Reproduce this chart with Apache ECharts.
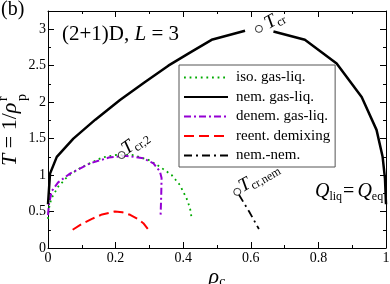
<!DOCTYPE html>
<html>
<head>
<meta charset="utf-8">
<script src="https://cdn.jsdelivr.net/npm/echarts@6/dist/echarts.min.js"></script>
<style>html,body{margin:0;padding:0;background:#fff}#c{width:390px;height:284px}</style>
</head>
<body>
<div id="c"></div>
<script>
// ---- data ----
const xRange = [0, 1];
const yRange = [0, 3.25];
const seriesNames = ['iso. gas-liq.', 'nem. gas-liq.', 'denem. gas-liq.', 'reent. demixing', 'nem.-nem.'];
const isoGasLiq = [[0,0.40],[0.003,0.55],[0.01,0.68],[0.03,0.84],[0.06,0.99],[0.1,1.11],[0.16,1.24],[0.2,1.275],[0.25,1.275],[0.297,1.21],[0.331,1.115],[0.366,1.0],[0.39,0.865],[0.41,0.68],[0.42,0.55],[0.425,0.41]];
const nemLeft = [[0,0.6],[0.006,1.02],[0.026,1.25],[0.075,1.5],[0.14,1.76],[0.213,2.03],[0.285,2.27],[0.356,2.5],[0.42,2.68],[0.484,2.855],[0.583,2.98]];
const nemRight = [[0.667,2.97],[0.76,2.855],[0.854,2.53],[0.928,2.07],[0.972,1.62],[0.99,1.25],[0.997,0.95],[1.0,0.6]];
const denemGasLiq = [[0,0.45],[0.003,0.6],[0.011,0.78],[0.03,0.9],[0.065,1.02],[0.124,1.16],[0.18,1.24],[0.23,1.265],[0.282,1.23],[0.312,1.16],[0.331,1.05],[0.336,0.96],[0.335,0.73],[0.333,0.43]];
const reentDemix = [[0.073,0.25],[0.1,0.33],[0.13,0.40],[0.16,0.46],[0.198,0.50],[0.22,0.49],[0.243,0.455],[0.265,0.40],[0.282,0.34],[0.297,0.25]];
const nemNem = [[0.565,0.73],[0.595,0.5],[0.624,0.26]];
const critPoints = [[0.624,3.005],[0.218,1.275],[0.56,0.77]];
const critSubs = ['cr', 'cr,2', 'cr,nem'];

// ---- styling ----
const SERIF = 'Liberation Serif';
const critLabelStyle = [
  {rot: 30, dx: 7, dy: -4},
  {rot: 35, dx: 2, dy: -4},
  {rot: 30, dx: 3, dy: -4}
];
const subRich = {
  t: {fontFamily: SERIF, fontStyle: 'italic', fontSize: 19, lineHeight: 22, color: '#000'},
  s: {fontFamily: SERIF, fontSize: 12, lineHeight: 12, verticalAlign: 'bottom', color: '#000'}
};

const chart = echarts.init(document.getElementById('c'), null, {renderer: 'canvas'});

function xAx(pos, showLabel) {
  return {
    type: 'value', position: pos, min: xRange[0], max: xRange[1], interval: 0.2,
    axisLine: {show: true, onZero: false, lineStyle: {color: '#000', width: 1}},
    axisTick: {show: true, inside: true, length: 6, lineStyle: {color: '#000', width: 1}},
    minorTick: {show: true, splitNumber: 2, length: 3, lineStyle: {color: '#000', width: 1}},
    splitLine: {show: false}, minorSplitLine: {show: false},
    axisLabel: {show: showLabel, color: '#000', fontFamily: SERIF, fontSize: 14, margin: 3},
    name: showLabel ? '{r|ρ}{c|c}' : '',
    nameLocation: 'middle', nameGap: 17, nameMoveOverlap: false,
    nameTextStyle: {
      color: '#000',
      rich: {
        r: {fontFamily: SERIF, fontStyle: 'italic', fontSize: 22, lineHeight: 24, color: '#000'},
        c: {fontFamily: SERIF, fontSize: 14, lineHeight: 14, verticalAlign: 'bottom', color: '#000'}
      }
    }
  };
}
function yAx(pos, interval, len, showLabel, showLine) {
  return {
    type: 'value', position: pos, min: yRange[0], max: yRange[1], interval: interval,
    axisLine: {show: showLine, onZero: false, lineStyle: {color: '#000', width: 1}},
    axisTick: {show: true, inside: true, length: len, lineStyle: {color: '#000', width: 1}},
    splitLine: {show: false},
    axisLabel: {
      show: showLabel, color: '#000', fontFamily: SERIF, fontSize: 14, margin: 2,
      formatter: v => (Math.abs(v * 2 - Math.round(v * 2)) < 1e-9 ? String(v) : '')
    }
  };
}

const baseGraphic = [
  {type: 'text', left: 1, top: 0, style: {text: '(b)', fontFamily: SERIF, fontSize: 20, fill: '#000'}},
  {type: 'text', left: 62, top: 24, style: {
    text: '{n|(2+1)D, }{i|L}{n| = 3}', fill: '#000',
    rich: {n: {fontFamily: SERIF, fontSize: 21, color: '#000'}, i: {fontFamily: SERIF, fontSize: 21, fontStyle: 'italic', color: '#000'}}
  }},
  {type: 'text', left: 315, top: 182, style: {
    text: '{q|Q}{s|liq}{n|=}{q|Q}{s|eq}', fill: '#000',
    rich: {
      q: {fontFamily: SERIF, fontStyle: 'italic', fontSize: 20, lineHeight: 22, color: '#000'},
      n: {fontFamily: SERIF, fontSize: 20, lineHeight: 22, color: '#000', padding: [0, 3, 0, 1]},
      s: {fontFamily: SERIF, fontSize: 12, lineHeight: 12, verticalAlign: 'bottom', color: '#000'}
    }
  }},
  {type: 'group', x: 10, y: 166, rotation: Math.PI / 2, children: [
    {type: 'text', x: 0, y: 0, style: {
      text: '{i|T}{n| = 1/}{i|ρ}', verticalAlign: 'middle', align: 'left',
      rich: {i: {fontFamily: SERIF, fontStyle: 'italic', fontSize: 22, color: '#000'}, n: {fontFamily: SERIF, fontSize: 22, color: '#000'}}
    }},
    {type: 'text', x: 65, y: 12, style: {text: 'p', fontFamily: SERIF, fontSize: 14, fill: '#000', verticalAlign: 'middle', align: 'left'}},
    {type: 'text', x: 65, y: -7, style: {text: 'r', fontFamily: SERIF, fontSize: 14, fill: '#000', verticalAlign: 'middle', align: 'left'}}
  ]}
];

const option = {
  animation: false,
  backgroundColor: '#fff',
  grid: {left: 48, right: 4, top: 11, bottom: 36, containLabel: false, outerBoundsMode: 'none'},
  xAxis: [xAx('bottom', true), xAx('top', false)],
  yAxis: [
    yAx('left', 0.5, 6, true, true),
    yAx('left', 0.25, 3, false, false),
    yAx('right', 0.5, 6, false, true),
    yAx('right', 0.25, 3, false, false)
  ],
  legend: {
    data: seriesNames,
    orient: 'vertical', left: 179, top: 65,
    padding: [5, 5, 4, 4], itemGap: 4.5, itemWidth: 44, itemHeight: 15,
    backgroundColor: '#fff', borderColor: '#555', borderWidth: 1, borderRadius: 0,
    itemStyle: {opacity: 0},
    textStyle: {fontFamily: SERIF, fontSize: 15, color: '#000', padding: [0, 0, 0, 3]},
    selectedMode: false
  },
  series: [
    {name: seriesNames[0], type: 'line', data: isoGasLiq, symbol: 'none', smooth: false,
     lineStyle: {color: '#00aa00', width: 1.8, type: [1.8, 3.8], cap: 'butt'}, itemStyle: {color: '#00aa00'}, z: 3},
    {name: seriesNames[1], type: 'line', data: nemLeft.concat([[null, null]], nemRight), symbol: 'none', connectNulls: false,
     lineStyle: {color: '#000', width: 2.5, type: 'solid'}, itemStyle: {color: '#000'}, z: 4},
    {name: seriesNames[2], type: 'line', data: denemGasLiq, symbol: 'none',
     lineStyle: {color: '#9400d3', width: 2, type: [7, 3, 2, 3]}, itemStyle: {color: '#9400d3'}, z: 3},
    {name: seriesNames[3], type: 'line', data: reentDemix, symbol: 'none',
     lineStyle: {color: '#ff0000', width: 2, type: [10, 5]}, itemStyle: {color: '#ff0000'}, z: 3},
    {name: seriesNames[4], type: 'line', data: nemNem, symbol: 'none',
     lineStyle: {color: '#000', width: 1.8, type: [8, 4, 2, 4]}, itemStyle: {color: '#000'}, z: 3},
    {name: 'crit', type: 'scatter', data: critPoints, symbol: 'circle', symbolSize: 7,
     itemStyle: {color: '#fff', borderColor: '#000', borderWidth: 1},
     emphasis: {disabled: true}, z: 6}
  ],
  graphic: baseGraphic
};
chart.setOption(option);

// critical-point labels anchored to the data points through the chart's own scales
const critGraphic = critPoints.map((p, i) => {
  const px = chart.convertToPixel({xAxisIndex: 0, yAxisIndex: 0}, p);
  const st = critLabelStyle[i];
  return {
    type: 'text', x: px[0] + st.dx, y: px[1] + st.dy, rotation: st.rot * Math.PI / 180, z: 10,
    style: {text: '{t|T}{s|' + critSubs[i] + '}', align: 'left', verticalAlign: 'middle', rich: subRich}
  };
});
chart.setOption({graphic: baseGraphic.concat(critGraphic)}, {replaceMerge: ['graphic']});
</script>
</body>
</html>
